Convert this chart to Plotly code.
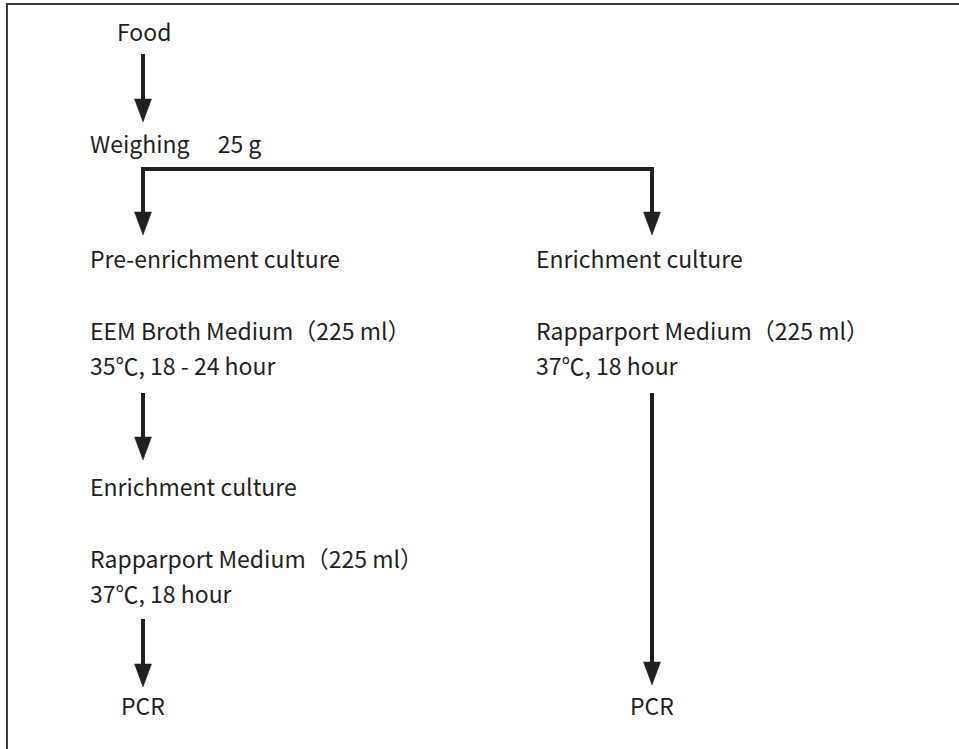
import plotly.graph_objects as go

# ---- flowchart content ----
labels_left = ["Pre-enrichment culture", "EEM Broth Medium（225 ml）", "35℃, 18 - 24 hour",
               "Enrichment culture", "Rapparport Medium（225 ml）", "37℃, 18 hour"]
labels_right = ["Enrichment culture", "Rapparport Medium（225 ml）", "37℃, 18 hour"]
label_top = "Food"
label_weigh = "Weighing　 25 g"
label_end = "PCR"

# ---- layout (pixel coords, y downward) ----
W, H = 959, 749
FS = 23
FONT = "Noto Sans CJK JP"
INK = "#231f20"
BASE_OFF = 10.0  # baseline below box centre
PAD = 3          # annotation inner padding

left_x, right_x = 91, 537
col_l, col_r = 143, 652
left_baselines = [268, 340, 375, 496, 568, 603]
right_baselines = [268, 340, 375]

fig = go.Figure()
ann = []

def text(x, base, s, anchor="left"):
    xx = x - PAD if anchor == "left" else x
    ann.append(dict(x=xx, y=base - BASE_OFF, text=s, showarrow=False, xanchor=anchor,
                    yanchor="middle", xref="x", yref="y",
                    font=dict(family=FONT, size=FS, color=INK)))

text(144, 41, label_top, "center")
text(left_x, 153, label_weigh)
for s, b in zip(labels_left, left_baselines):
    text(left_x, b, s)
for s, b in zip(labels_right, right_baselines):
    text(right_x, b, s)
text(col_l, 715, label_end, "center")
text(col_r, 715, label_end, "center")

shapes = []
LW = 4
HEAD_L, HEAD_W = 23, 17

def vline(x, y0, y1):
    shapes.append(dict(type="line", x0=x, x1=x, y0=y0, y1=y1, xref="x", yref="y",
                       line=dict(color=INK, width=LW)))

def head(x, tip):
    top = tip - HEAD_L
    shapes.append(dict(type="path",
                       path=f"M {x - HEAD_W/2} {top} L {x + HEAD_W/2} {top} L {x} {tip} Z",
                       xref="x", yref="y", fillcolor=INK, line=dict(color=INK, width=0.5)))

def arrow(x, y0, tip):
    vline(x, y0, tip - HEAD_L + 2)
    head(x, tip)

arrow(col_l, 54, 122)
# branch
shapes.append(dict(type="path", path=f"M {col_l} 214 L {col_l} 169 L {col_r} 169 L {col_r} 214",
                   xref="x", yref="y", line=dict(color=INK, width=LW)))
head(col_l, 235)
head(col_r, 235)
arrow(col_l, 393, 460)
arrow(col_l, 619, 687)
arrow(col_r, 393, 685)

# frame (only top and left edges visible)
shapes.append(dict(type="path", path=f"M 7 {H + 10} L 7 4 L {W + 10} 4",
                   xref="x", yref="y", line=dict(color="#3c3c3c", width=2)))

fig.update_layout(
    width=W, height=H, autosize=False,
    margin=dict(l=0, r=0, t=0, b=0),
    paper_bgcolor="white", plot_bgcolor="white",
    xaxis=dict(range=[0, W], visible=False, fixedrange=True),
    yaxis=dict(range=[H, 0], visible=False, fixedrange=True),
    shapes=shapes, annotations=ann, showlegend=False,
)
fig.write_html("out.html", config={"displayModeBar": False},
               post_script="document.body.style.margin='0';document.body.style.overflow='hidden';")
